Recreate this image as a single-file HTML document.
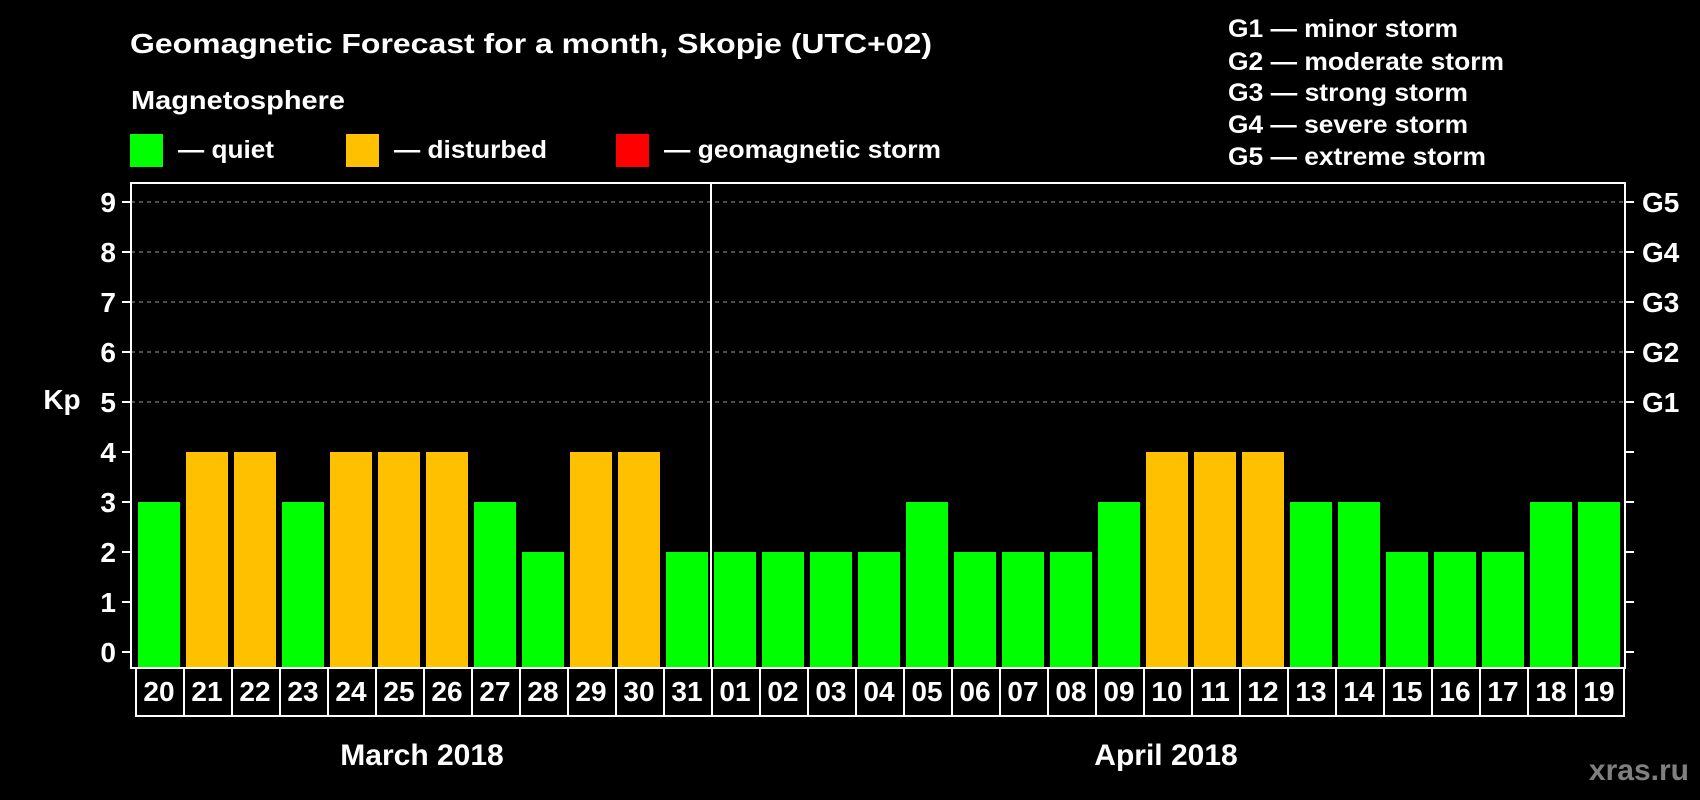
<!DOCTYPE html>
<html><head><meta charset="utf-8"><style>
html,body{margin:0;padding:0;background:#000;}
svg{display:block;font-family:"Liberation Sans",Arial,sans-serif;font-weight:bold;}
</style></head><body>
<svg id="chart" width="1700" height="800" viewBox="0 0 1700 800" xmlns="http://www.w3.org/2000/svg">
<rect width="1700" height="800" fill="#000"/>
<text x="130" y="53" fill="#fff" font-size="28" textLength="802" lengthAdjust="spacingAndGlyphs">Geomagnetic Forecast for a month, Skopje (UTC+02)</text>
<text x="131" y="109" fill="#fff" font-size="26" textLength="214" lengthAdjust="spacingAndGlyphs">Magnetosphere</text>
<g><rect x="130" y="134" width="33" height="33" fill="#00ff00"/><text x="178" y="158" fill="#fff" font-size="25" textLength="96" lengthAdjust="spacingAndGlyphs">— quiet</text></g>
<g><rect x="346" y="134" width="33" height="33" fill="#ffc000"/><text x="394" y="158" fill="#fff" font-size="25" textLength="153" lengthAdjust="spacingAndGlyphs">— disturbed</text></g>
<g><rect x="616" y="134" width="33" height="33" fill="#ff0000"/><text x="664" y="158" fill="#fff" font-size="25" textLength="277" lengthAdjust="spacingAndGlyphs">— geomagnetic storm</text></g>
<g fill="#fff" font-size="25">
<text x="1228" y="37" textLength="230" lengthAdjust="spacingAndGlyphs">G1 — minor storm</text>
<text x="1228" y="70" textLength="276" lengthAdjust="spacingAndGlyphs">G2 — moderate storm</text>
<text x="1228" y="101" textLength="240" lengthAdjust="spacingAndGlyphs">G3 — strong storm</text>
<text x="1228" y="133" textLength="240" lengthAdjust="spacingAndGlyphs">G4 — severe storm</text>
<text x="1228" y="165" textLength="258" lengthAdjust="spacingAndGlyphs">G5 — extreme storm</text>
</g>
<text x="62" y="409" fill="#fff" font-size="28" text-anchor="middle">Kp</text>
<g id="grid"></g><g id="bars"></g><g id="axes"></g>
<text x="422" y="765" fill="#fff" font-size="30" text-anchor="middle">March 2018</text>
<text x="1166" y="765" fill="#fff" font-size="30" text-anchor="middle">April 2018</text>
<text x="1689" y="780" fill="#808080" font-size="30" text-anchor="end">xras.ru</text>
</svg>
<script>
const days = ["20","21","22","23","24","25","26","27","28","29","30","31","01","02","03","04","05","06","07","08","09","10","11","12","13","14","15","16","17","18","19"];
const kpValues = [3,4,4,3,4,4,4,3,2,4,4,2,2,2,2,2,3,2,2,2,3,4,4,4,3,3,2,2,2,3,3];
const yTicks = [0,1,2,3,4,5,6,7,8,9];
const stormTicks = ["","","","","","G1","G2","G3","G4","G5"];
const monthBreakIndex = 12;

const NS="http://www.w3.org/2000/svg";
const L=131,R=1625,T=183,B=668,X0=138,PITCH=48,BW=42;
const y=v=>652-v*50;
const x=i=>X0+i*PITCH;
function mk(tag,attrs,parent){const e=document.createElementNS(NS,tag);for(const k in attrs)e.setAttribute(k,attrs[k]);parent.appendChild(e);return e;}
const grid=document.getElementById('grid'),bars=document.getElementById('bars'),axes=document.getElementById('axes');
yTicks.forEach(v=>{
  if(v>=5){const g=mk('line',{x1:L,x2:R,y1:y(v),y2:y(v),stroke:'#999','stroke-width':1,'stroke-dasharray':'4,4'},grid);
  
  }
  const t=mk('line',{x1:122,x2:L,y1:y(v),y2:y(v),stroke:'#fff','stroke-width':2},axes);
  
  
  const lb=mk('text',{x:116,y:y(v)+10,fill:'#fff','font-size':28,'text-anchor':'end'},axes);lb.textContent=v;
  
  
  const rt=mk('line',{x1:R,x2:1634,y1:y(v),y2:y(v),stroke:'#fff','stroke-width':2},axes);
  
  
  if(stormTicks[v]){const s=mk('text',{x:1642,y:y(v)+10,fill:'#fff','font-size':28},axes);s.textContent=stormTicks[v];
  
  }
});
kpValues.forEach((v,i)=>{
  const col=v>=5?'#ff0000':(v>=4?'#ffc000':'#00ff00');
  const b=mk('rect',{x:x(i),y:y(v),width:BW,height:B-y(v),fill:col},bars);
  
  
  const c=mk('rect',{x:x(i)-2,y:B,width:PITCH,height:48,fill:'none',stroke:'#fff','stroke-width':2},axes);
  
  
  const t=mk('text',{x:x(i)+BW/2,y:701,fill:'#fff','font-size':28,'text-anchor':'middle'},axes);t.textContent=days[i];
  
  
});
const fr=mk('rect',{x:L,y:T,width:R-L,height:B-T,fill:'none',stroke:'#fff','stroke-width':2},axes);


const dv=mk('line',{x1:x(monthBreakIndex)-3,x2:x(monthBreakIndex)-3,y1:T,y2:B,stroke:'#fff','stroke-width':2},axes);


</script>
</body></html>
